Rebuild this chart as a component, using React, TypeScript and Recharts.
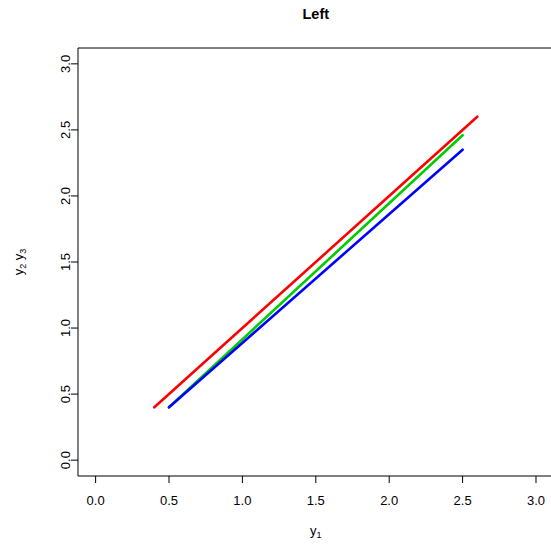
import { Label, Line, LineChart, ReferenceArea, XAxis, YAxis } from "recharts";

// endpoints (y1 on x, y2/y3 on y)
const redX = [0.4, 2.6];
const redY = [0.4, 2.6];
const greenX = [0.5, 2.5];
const greenY = [0.4, 2.46];
const blueX = [0.5, 2.5];
const blueY = [0.4, 2.35];

const axisTicks = [0, 0.5, 1, 1.5, 2, 2.5, 3];
const axisRange: [number, number] = [-0.12, 3.12];

const FONT = "'Liberation Sans', Arial, Helvetica, sans-serif";

const toPoints = (xs: number[], ys: number[]) =>
  xs.map((x, i) => ({ x, y: ys[i] }));

const YTick = (props: any) => {
  const { x, y, payload } = props;
  return (
    <text
      x={x}
      y={y}
      transform={`rotate(-90 ${x} ${y})`}
      textAnchor="middle"
      fontSize={13}
      fontFamily={FONT}
      fill="#000"
    >
      {Number(payload.value).toFixed(1)}
    </text>
  );
};

export default function App() {
  const W = 580;
  const H = 549;
  return (
    <div
      style={{
        position: "fixed",
        left: 0,
        top: 0,
        width: 551,
        height: 549,
        overflow: "hidden",
        background: "#fff",
      }}
    >
      <div
        style={{
          position: "absolute",
          left: 0,
          width: 631.6,
          top: 6,
          textAlign: "center",
          fontFamily: FONT,
          fontWeight: "bold",
          fontSize: 14.5,
          color: "#000",
        }}
      >
        Left
      </div>
      <LineChart
        width={W}
        height={H}
        margin={{ top: 48, right: 26.4, left: 0, bottom: 0 }}
      >
        <XAxis
          type="number"
          dataKey="x"
          domain={axisRange}
          ticks={axisTicks}
          allowDataOverflow
          tickFormatter={(v: number) => v.toFixed(1)}
          tick={{ fill: "#000", fontSize: 13, fontFamily: FONT }}
          tickLine={{ stroke: "#000" }}
          tickSize={7}
          tickMargin={13}
          axisLine={false}
          height={73}
        >
          <Label
            content={(p: any) => {
              const vb = p.viewBox;
              const cx = vb.x + vb.width / 2;
              return (
                <text
                  x={cx}
                  y={535}
                  textAnchor="middle"
                  fontSize={13}
                  fontFamily={FONT}
                  fill="#000"
                >
                  y
                  <tspan fontSize={9} dy={3}>
                    1
                  </tspan>
                </text>
              );
            }}
          />
        </XAxis>
        <YAxis
          type="number"
          dataKey="y"
          domain={axisRange}
          ticks={axisTicks}
          allowDataOverflow
          tick={<YTick />}
          tickLine={{ stroke: "#000" }}
          tickSize={7}
          tickMargin={1}
          axisLine={false}
          width={78}
        >
          <Label
            content={(p: any) => {
              const vb = p.viewBox;
              const cy = vb.y + vb.height / 2;
              const cx = 23;
              return (
                <text
                  x={cx}
                  y={cy}
                  transform={`rotate(-90 ${cx} ${cy})`}
                  textAnchor="middle"
                  fontSize={13}
                  fontFamily={FONT}
                  fill="#000"
                >
                  y
                  <tspan fontSize={9} dy={3}>
                    2
                  </tspan>
                  <tspan dy={-3}> y</tspan>
                  <tspan fontSize={9} dy={3}>
                    3
                  </tspan>
                </text>
              );
            }}
          />
        </YAxis>
        <ReferenceArea
          x1={axisRange[0]}
          x2={axisRange[1]}
          y1={axisRange[0]}
          y2={axisRange[1]}
          fill="none"
          stroke="#000"
          strokeWidth={1}
          ifOverflow="visible"
        />
        <Line
          data={toPoints(redX, redY)}
          dataKey="y"
          stroke="#FF0000"
          strokeWidth={2.6}
          strokeLinecap="round"
          dot={false}
          activeDot={false}
          isAnimationActive={false}
        />
        <Line
          data={toPoints(greenX, greenY)}
          dataKey="y"
          stroke="#00CD00"
          strokeWidth={2.6}
          strokeLinecap="round"
          dot={false}
          activeDot={false}
          isAnimationActive={false}
        />
        <Line
          data={toPoints(blueX, blueY)}
          dataKey="y"
          stroke="#0000FF"
          strokeWidth={2.6}
          strokeLinecap="round"
          dot={false}
          activeDot={false}
          isAnimationActive={false}
        />
      </LineChart>
    </div>
  );
}
